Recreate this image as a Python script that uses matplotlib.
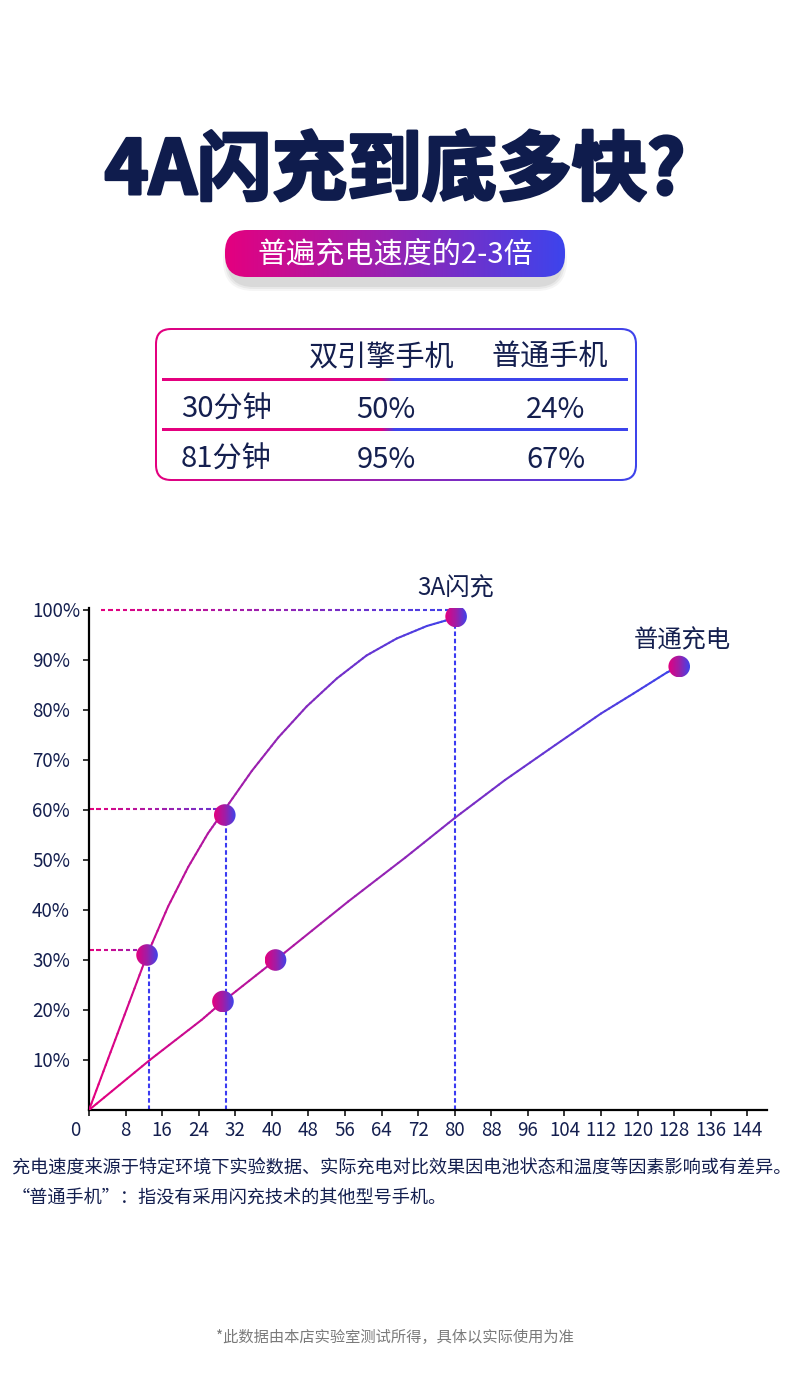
import numpy as np
import matplotlib
matplotlib.use('Agg')
import matplotlib.pyplot as plt
import matplotlib.patches as mpatches
import matplotlib.patheffects as pe
from matplotlib.collections import LineCollection
from matplotlib.colors import LinearSegmentedColormap
from matplotlib.transforms import blended_transform_factory

plt.rcParams['font.family'] = ['Noto Sans CJK SC', 'DejaVu Sans']

# text
title = '4A闪充到底多快?'
badge = '普遍充电速度的2-3倍'
table_cols = ['双引擎手机', '普通手机']
table_rows = ['30分钟', '81分钟']
table_dual = ['50%', '95%']
table_normal = ['24%', '67%']
series_labels = ['3A闪充', '普通充电']
note1 = '充电速度来源于特定环境下实验数据、实际充电对比效果因电池状态和温度等因素影响或有差异。'
note2 = '“普通手机”：指没有采用闪充技术的其他型号手机。'
note3 = '*此数据由本店实验室测试所得，具体以实际使用为准'

# curves (minutes, %)
fast_x = [0, 4.2, 8.3, 12.7, 17.3, 21.7, 26.0, 30.0, 35.6, 41.4, 47.6, 54.2, 60.7, 67.3, 73.9, 80.3]
fast_y = [0, 10.3, 20.3, 31.0, 40.7, 48.6, 55.3, 60.5, 67.8, 74.5, 80.7, 86.3, 90.9, 94.3, 96.8, 98.5]
normal_x = [0, 13.3, 24.6, 29.3, 40.8, 56.7, 69.2, 80.0, 91.0, 102.0, 112.0, 119.1, 126.4, 129.1]
normal_y = [0, 10.0, 18.0, 21.7, 30.0, 41.7, 50.5, 58.4, 66.0, 73.0, 79.3, 83.3, 87.5, 88.7]

# highlighted points
fast_pts_x = [12.7, 29.7, 80.3]
fast_pts_y = [31.0, 59.0, 98.7]
normal_pts_x = [29.3, 40.8, 129.1]
normal_pts_y = [21.7, 30.0, 88.7]

# guide lines
guide_h_y = [32.0, 60.2, 100.0]
guide_h_x0 = [0, 0, 2.6]
guide_h_x1 = [12.7, 29.7, 80.3]
guide_v_x = [13.1, 29.9, 80.1]
guide_v_y = [31.0, 59.0, 98.7]

xticks = list(range(0, 145, 8))
yticks = list(range(10, 101, 10))

navy = '#141f4f'
mag = '#e4007f'
blue = '#3d44ec'
grad_cm = LinearSegmentedColormap.from_list('g', [mag, '#9424b4', blue])
row_cm = LinearSegmentedColormap.from_list('r', [(0, mag), (0.47, mag), (0.5, blue), (1, blue)])
dot_cm = LinearSegmentedColormap.from_list('m', [mag, '#a01ea6', blue])
hgrad = np.linspace(0, 1, 256).reshape(1, -1)

fig = plt.figure(figsize=(7.9, 14), dpi=100)
bg = fig.add_axes([0, 0, 1, 1])
bg.axis('off')

# title + badge
bg.text(395, 172, title, ha='center', va='center', fontsize=54, fontweight='black', color='#0f1c4d',
        path_effects=[pe.withStroke(linewidth=2.2, foreground='#0f1c4d')])

px0, py0, pw, ph = 225, 230, 340, 47
for grow, a in [(7, 0.05), (5, 0.07), (3, 0.09)]:
    sh = mpatches.FancyBboxPatch((px0 + 5 - grow, py0 + 7 - grow), pw - 10 + 2 * grow, ph + 2 * grow,
                                 boxstyle='round,pad=0,rounding_size=%g' % (ph / 2 + grow),
                                 fc='#444444', ec='none', alpha=a, zorder=1)
    bg.add_patch(sh)
pill = mpatches.FancyBboxPatch((px0, py0), pw, ph, boxstyle='round,pad=0,rounding_size=22',
                               fc='none', ec='none')
bg.add_patch(pill)
im = bg.imshow(hgrad, extent=[px0, px0 + pw, py0 + ph, py0], cmap=grad_cm, aspect='auto', zorder=2)
im.set_clip_path(pill)
bg.text(395, 254, badge, ha='center', va='center', fontsize=21, color='white', zorder=3)

# table
tx0, ty0, tw, th = 155, 328, 482, 153
outer = mpatches.FancyBboxPatch((tx0, ty0), tw, th, boxstyle='round,pad=0,rounding_size=16',
                                fc='none', ec='none')
bg.add_patch(outer)
im = bg.imshow(hgrad, extent=[tx0, tx0 + tw, ty0 + th, ty0], cmap=grad_cm, aspect='auto', zorder=2)
im.set_clip_path(outer)
bg.add_patch(mpatches.FancyBboxPatch((tx0 + 2, ty0 + 2), tw - 4, th - 4,
                                     boxstyle='round,pad=0,rounding_size=14',
                                     fc='white', ec='none', zorder=3))
for ly in [380, 430]:
    bg.imshow(hgrad, extent=[162, 628, ly + 1.1, ly - 1.1], cmap=row_cm, aspect='auto', zorder=4)

head_x = [382, 550]
val_x = [386, 556]
row_y = [410, 460]
for cx, lab in zip(head_x, table_cols):
    bg.text(cx, 358, lab, ha='center', va='center', fontsize=21, color=navy, zorder=5)
for ry, rl, d, n in zip(row_y, table_rows, table_dual, table_normal):
    bg.text(181, ry, rl, ha='left', va='center', fontsize=21, color=navy, zorder=5)
    bg.text(val_x[0], ry, d, ha='center', va='center', fontsize=21, color=navy, zorder=5)
    bg.text(val_x[1], ry, n, ha='center', va='center', fontsize=21, color=navy, zorder=5)

# notes
bg.text(12, 1169, note1, ha='left', va='center', fontsize=13.1, fontweight='medium', color=navy)
bg.text(12, 1199, note2, ha='left', va='center', fontsize=13.1, fontweight='medium', color=navy)
bg.text(395, 1337, note3, ha='center', va='center', fontsize=11, color='#7a7a7a')

bg.set_xlim(0, 790)
bg.set_ylim(1400, 0)

# chart
ax = fig.add_axes([89 / 790, 290 / 1400, 678 / 790, 502 / 1400])
ax.patch.set_alpha(0)
xmax, ymax = 148.3, 100.4
for s in ['top', 'right']:
    ax.spines[s].set_visible(False)
for s in ['left', 'bottom']:
    ax.spines[s].set_linewidth(1.6)
    ax.spines[s].set_color('black')
ax.set_xticks(xticks)
ax.set_xticklabels([])
ax.set_yticks(yticks)
ax.set_yticklabels([])
ax.tick_params(direction='out', length=4.5, width=1.1, color='black')


def grad_line(xs, ys, lw, z):
    xs = np.asarray(xs, float)
    ys = np.asarray(ys, float)
    segs, cols = [], []
    for i in range(len(xs) - 1):
        t = np.linspace(0, 1, 9)
        px = xs[i] + (xs[i + 1] - xs[i]) * t
        py = ys[i] + (ys[i + 1] - ys[i]) * t
        for k in range(len(t) - 1):
            segs.append([(px[k], py[k]), (px[k + 1], py[k + 1])])
            cols.append(grad_cm(0.5 * (px[k] + px[k + 1]) / xs[-1]))
    lc = LineCollection(segs, colors=cols, linewidths=lw, capstyle='round', zorder=z)
    ax.add_collection(lc)


def grad_dashes(y, x0, x1, tend, on=1.0, off=0.6):
    starts = np.arange(x0, x1, on + off)
    segs = [[(s, y), (min(s + on, x1), y)] for s in starts]
    cols = [grad_cm(tend * (s - x0) / (x1 - x0)) for s in starts]
    ax.add_collection(LineCollection(segs, colors=cols, linewidths=1.5, capstyle='butt', zorder=2,
                                     clip_on=False))


for y, x0, x1, te in zip(guide_h_y, guide_h_x0, guide_h_x1, [0.55, 0.8, 1.0]):
    grad_dashes(y, x0, x1, te)
for x, y in zip(guide_v_x, guide_v_y):
    ax.plot([x, x], [0, y], color='#3b3bf2', lw=1.5, dashes=(2.2, 1.3), zorder=2)

grad_line(fast_x, fast_y, 1.5, 3)
grad_line(normal_x, normal_y, 1.5, 3)

rx, ry = 10.8 / 4.571, 10.8 / 5.0
for x, y in zip(fast_pts_x + normal_pts_x, fast_pts_y + normal_pts_y):
    e = mpatches.Ellipse((x, y), 2 * rx, 2 * ry, fc='none', ec='none')
    ax.add_patch(e)
    im = ax.imshow(hgrad, extent=[x - rx, x + rx, y - ry, y + ry], cmap=dot_cm,
                   aspect='auto', zorder=5, interpolation='bilinear')
    im.set_clip_path(e)

ax.text(80.1, 104.4, series_labels[0], ha='center', va='center', fontsize=17.5, color=navy, clip_on=False)
ax.text(129.7, 94.0, series_labels[1], ha='center', va='center', fontsize=17.5, color=navy, clip_on=False)

# tick labels
ytr = blended_transform_factory(fig.transFigure, ax.transData)
for v in yticks:
    ax.text(32 / 790, v - 0.3, '%d%%' % v, transform=ytr, ha='left', va='center', fontsize=13.5, color=navy)
for v in xticks[1:]:
    ax.text(v, -4.0, str(v), ha='center', va='center', fontsize=13.5, color=navy, clip_on=False)
ax.text(-3.1, -4.0, '0', ha='center', va='center', fontsize=13.5, color=navy, clip_on=False)

ax.set_xlim(0, xmax)
ax.set_ylim(0, ymax)

fig.savefig('out.png', dpi=100)
